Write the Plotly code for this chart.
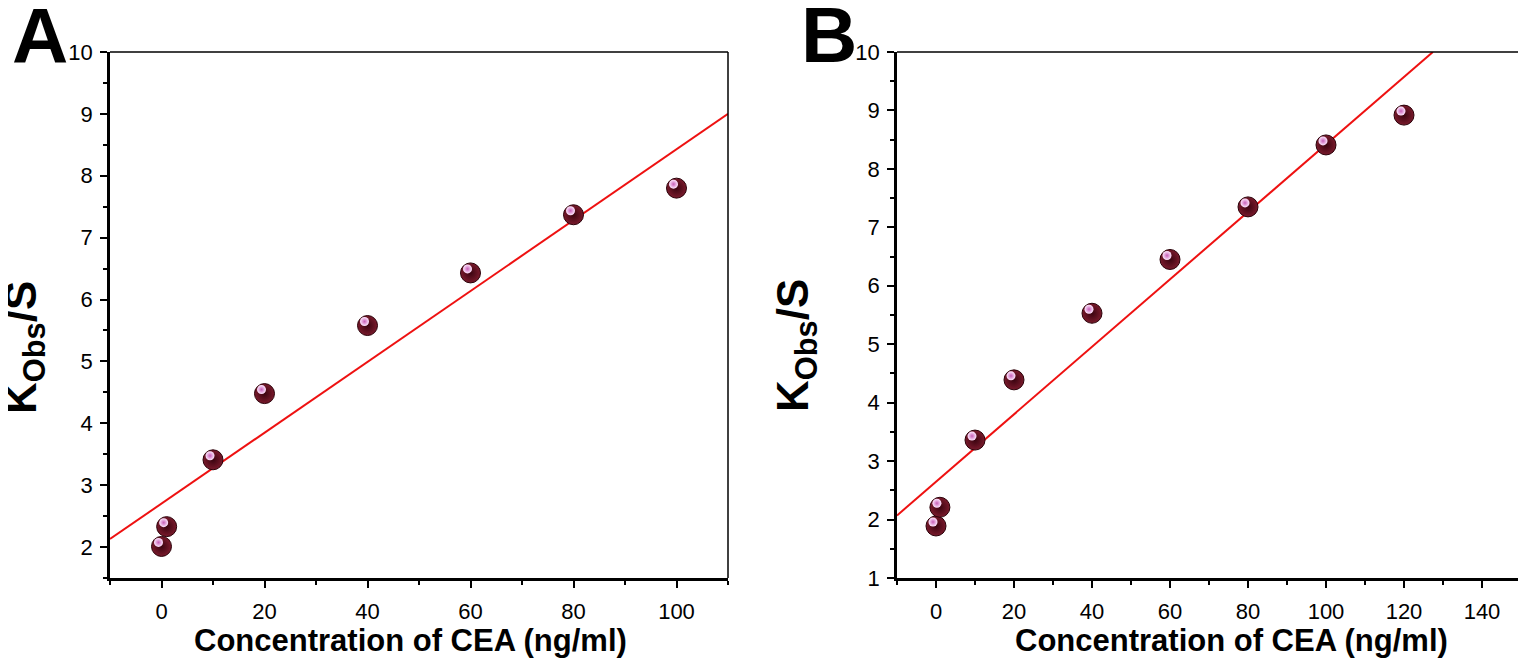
import plotly.graph_objects as go

W, H = 1526, 664

# ---------------- data ----------------
conc_A = [0, 1, 10, 20, 40, 60, 80, 100]
kobs_A = [2.01, 2.33, 3.41, 4.48, 5.58, 6.43, 7.37, 7.80]
fit_x_A = [-10, 110]
fit_y_A = [2.13, 9.00]

conc_B = [0, 1, 10, 20, 40, 60, 80, 100, 120]
kobs_B = [1.89, 2.21, 3.36, 4.39, 5.53, 6.45, 7.35, 8.41, 8.92]
fit_x_B = [-10, 127.4]
fit_y_B = [2.07, 10.00]

xrange_A = [-10, 110]
yrange_A = [1.5, 10]
xrange_B = [-10, 150]
yrange_B = [1, 10]
xticks_A = [0, 20, 40, 60, 80, 100]
xticks_B = [0, 20, 40, 60, 80, 100, 120, 140]
yticks_A = [2, 3, 4, 5, 6, 7, 8, 9, 10]
yticks_B = [1, 2, 3, 4, 5, 6, 7, 8, 9, 10]

x_title = "Concentration of CEA (ng/ml)"
y_title = "K<sub>Obs</sub>/S"

# ---------------- layout geometry (screen pixels) ----------------
OFF = 8  # page body margin offsets the figure on screen

def px(x):
    return (x - OFF) / W

def py(y):
    return 1 - (y - OFF) / H

plot_top, plot_bot = 52, 578
A_left, A_right = 110, 728
B_left, B_right = 897, 1521
hl_dx, hl_dy = -3, -4  # highlight offset in px

FONT = "Liberation Sans, Arial, sans-serif"
line_red = "#ee1111"

fig = go.Figure()

def add_panel(xs, ys, fx, fy, xa, ya, xa_hl, ya_hl):
    fig.add_trace(go.Scatter(x=fx, y=fy, mode="lines", xaxis=xa, yaxis=ya,
                             line=dict(color=line_red, width=2), showlegend=False,
                             hoverinfo="skip"))
    fig.add_trace(go.Scatter(x=xs, y=ys, mode="markers", xaxis=xa, yaxis=ya,
                             marker=dict(size=20, color="#7a1a2c",
                                         gradient=dict(type="radial", color="#3a0410"),
                                         line=dict(color="#2a0008", width=1)),
                             showlegend=False))
    fig.add_trace(go.Scatter(x=xs, y=ys, mode="markers", xaxis=xa_hl, yaxis=ya_hl,
                             marker=dict(size=9, color="#ffe8ff",
                                         gradient=dict(type="radial", color="#c860b8"),
                                         line=dict(width=0)),
                             showlegend=False, hoverinfo="skip"))

add_panel(conc_A, kobs_A, fit_x_A, fit_y_A, "x", "y", "x3", "y3")
add_panel(conc_B, kobs_B, fit_x_B, fit_y_B, "x2", "y2", "x4", "y4")

axis_common = dict(showgrid=False, zeroline=False, showline=True, linecolor="black",
                   linewidth=2.5, ticks="outside", ticklen=7, tickwidth=2,
                   tickcolor="black", automargin=False,
                   tickfont=dict(family=FONT, size=22, color="black"),
                   minor=dict(ticks="outside", ticklen=4, tickwidth=2, tickcolor="black"))
hidden = dict(visible=False, automargin=False, showgrid=False, zeroline=False)

ydom = [py(plot_bot), py(plot_top)]

fig.update_layout(
    template="none",
    width=W, height=H, margin=dict(l=0, r=0, t=0, b=0, pad=0), autosize=False,
    paper_bgcolor="white", plot_bgcolor="rgba(0,0,0,0)",
    xaxis=dict(**axis_common, domain=[px(A_left), px(A_right)], range=xrange_A,
               tickvals=xticks_A, minor_dtick=10, anchor="y", ticklabelstandoff=5),
    yaxis=dict(**axis_common, domain=ydom, range=yrange_A,
               tickvals=yticks_A, minor_dtick=0.5, anchor="x", ticklabelstandoff=3),
    xaxis2=dict(**axis_common, domain=[px(B_left), px(B_right)], range=xrange_B,
                tickvals=xticks_B, minor_dtick=10, anchor="y2", ticklabelstandoff=5),
    yaxis2=dict(**axis_common, domain=ydom, range=yrange_B,
                tickvals=yticks_B, minor_dtick=0.5, anchor="x2", ticklabelstandoff=3),
    xaxis3=dict(**hidden, range=xrange_A, anchor="y3",
                domain=[px(A_left + hl_dx), px(A_right + hl_dx)]),
    yaxis3=dict(**hidden, range=yrange_A, anchor="x3",
                domain=[py(plot_bot + hl_dy), py(plot_top + hl_dy)]),
    xaxis4=dict(**hidden, range=xrange_B, anchor="y4",
                domain=[px(B_left + hl_dx), px(B_right + hl_dx)]),
    yaxis4=dict(**hidden, range=yrange_B, anchor="x4",
                domain=[py(plot_bot + hl_dy), py(plot_top + hl_dy)]),
)

# thin top / right frame lines
for l, r in [(A_left, A_right), (B_left, B_right)]:
    fig.add_shape(type="line", xref="paper", yref="paper", x0=px(l), x1=px(r),
                  y0=py(plot_top), y1=py(plot_top), line=dict(color="black", width=1.5))
    fig.add_shape(type="line", xref="paper", yref="paper", x0=px(r), x1=px(r),
                  y0=py(plot_top), y1=py(plot_bot), line=dict(color="black", width=1.5))

def note(text, x, y, size, angle=0):
    return dict(text=text, x=px(x), y=py(y), xref="paper", yref="paper",
                xanchor="center", yanchor="middle", showarrow=False, textangle=angle,
                font=dict(family=FONT, size=size, color="black"))

ann = [
    note("<b>A</b>", 40, 36, 78),
    note("<b>B</b>", 829, 35, 78),
    note("<b>" + x_title + "</b>", 410, 640, 31),
    note("<b>" + x_title + "</b>", 1231, 640, 31),
    note("<b>" + y_title + "</b>", 24, 348, 44, -90),
    note("<b>" + y_title + "</b>", 796, 346, 44, -90),
]
fig.update_layout(annotations=ann)

fig.write_html("out.html")
